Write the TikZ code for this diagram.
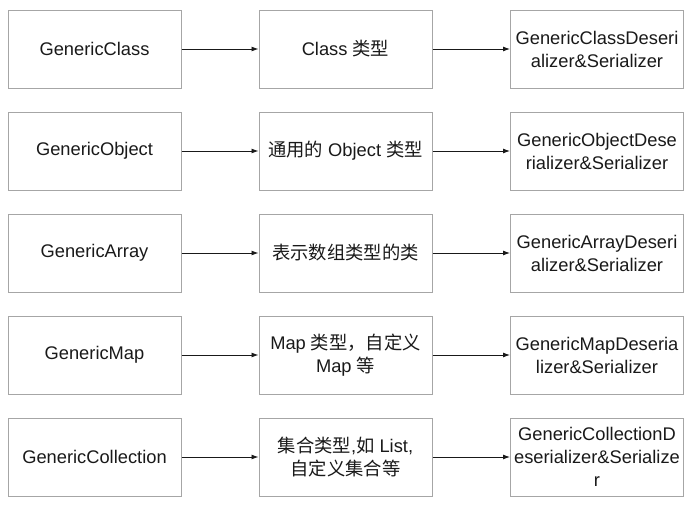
\documentclass[tikz,border=0pt]{standalone}
\usepackage{fontspec}
\setmainfont{Liberation Sans}
\newfontfamily\cjk{Noto Sans CJK SC}
\usetikzlibrary{arrows.meta}
\definecolor{boxgray}{HTML}{A6A6A6}
\tikzset{
  box/.style={draw=boxgray, line width=1pt, minimum width=173pt, minimum height=78pt,
    inner sep=0pt, align=center, font=\fontsize{18.3pt}{23pt}\selectfont, text=black!90},
  conn/.style={-{Latex[length=7pt,width=5pt]}, line width=0.9pt, black!90}
}
\begin{document}
\begin{tikzpicture}[x=1pt,y=-1pt]
\useasboundingbox (0,0) rectangle (694,506);
\node[box] (a1) at (94.5,49) {GenericClass};
\node[box] (b1) at (345.5,49) {Class {\cjk 类型}};
\node[box] (d1) at (597,49) {GenericClassDeseri\\alizer\&Serializer};
\node[box] (a2) at (94.5,151) {GenericObject};
\node[box] (b2) at (345.5,151) {{\cjk 通用的} Object {\cjk 类型}};
\node[box] (d2) at (597,151) {GenericObjectDese\\rializer\&Serializer};
\node[box] (a3) at (94.5,253) {GenericArray};
\node[box] (b3) at (345.5,253) {{\cjk 表示数组类型的类}};
\node[box] (d3) at (597,253) {GenericArrayDeseri\\alizer\&Serializer};
\node[box] (a4) at (94.5,355) {GenericMap};
\node[box] (b4) at (345.5,355) {Map {\cjk 类型，自定义}\\Map {\cjk 等}};
\node[box] (d4) at (597,355) {GenericMapDeseria\\lizer\&Serializer};
\node[box] (a5) at (94.5,457) {GenericCollection};
\node[box] (b5) at (345.5,457) {{\cjk 集合类型},{\cjk 如} List,\\{\cjk 自定义集合等}};
\node[box] (d5) at (597,457) {GenericCollectionD\\eserializer\&Serialize\\r};
\foreach \r in {1,...,5}{
  \draw[conn] (a\r) -- (b\r);
  \draw[conn] (b\r) -- (d\r);
}
\end{tikzpicture}
\end{document}
